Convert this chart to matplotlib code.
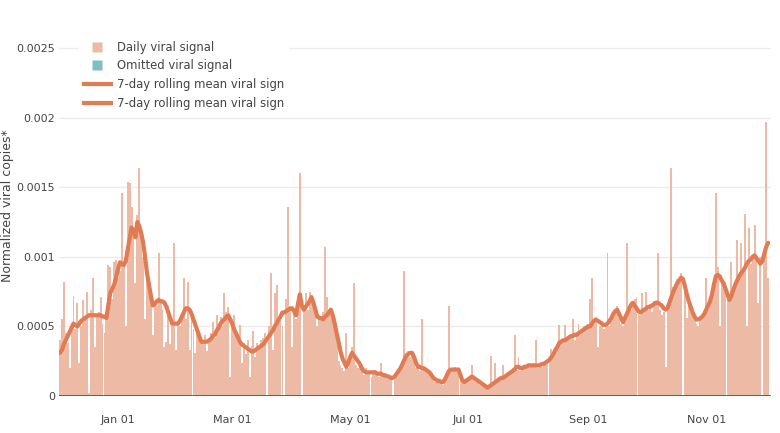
import numpy as np
import pandas as pd
import matplotlib
matplotlib.use('Agg')
import matplotlib.pyplot as plt
from matplotlib.lines import Line2D

plt.rcParams['font.family'] = ['DejaVu Sans']

# ---- data (values in units of 1e-5 normalized viral copies) ----
start_date = '2022-12-02'
daily_signal = [
    40, 55, 82, 45, 38, 20, 52, 72, 48, 67,
    24, 50, 69, 55, 75, 2, 62, 85, 35, 58,
    60, 71, 52, 45, 60, 94, 93, 70, 96, 98,
    85, 90, 146, 95, 50, 154, 153, 136, 120, 81,
    130, 164, 114, 100, 55, 83, 75, 70, 44, 68,
    65, 103, 70, 62, 35, 39, 65, 37, 55, 110,
    33, 52, 50, 58, 85, 55, 82, 33, 60, 48,
    31, 50, 42, 40, 38, 44, 32, 40, 45, 53,
    42, 58, 48, 57, 50, 74, 60, 64, 14, 55,
    58, 45, 40, 51, 24, 38, 30, 40, 14, 36,
    47, 28, 38, 35, 40, 42, 45, 1, 50, 88,
    33, 74, 80, 55, 60, 50, 1, 70, 136, 62,
    35, 60, 55, 68, 160, 1, 65, 74, 62, 75,
    70, 65, 62, 50, 58, 55, 60, 107, 71, 58,
    62, 55, 48, 40, 25, 22, 20, 18, 45, 20,
    28, 35, 81, 22, 20, 25, 18, 15, 20, 16,
    18, 14, 17, 19, 15, 14, 24, 16, 14, 12,
    15, 12, 1, 14, 17, 20, 22, 25, 90, 30,
    32, 28, 30, 26, 20, 22, 18, 55, 19, 17,
    18, 15, 14, 12, 10, 12, 9, 11, 8, 14,
    16, 65, 20, 18, 21, 17, 19, 14, 9, 10,
    12, 11, 13, 22, 12, 10, 11, 8, 9, 7,
    6, 5, 8, 29, 7, 24, 10, 13, 12, 22,
    14, 15, 17, 16, 20, 44, 19, 28, 18, 21,
    20, 22, 23, 21, 22, 23, 40, 20, 22, 21,
    24, 22, 26, 25, 34, 30, 32, 36, 51, 40,
    38, 51, 40, 42, 43, 55, 40, 45, 52, 44,
    46, 50, 48, 52, 70, 85, 52, 55, 35, 50,
    54, 48, 52, 103, 50, 55, 58, 60, 65, 56,
    52, 50, 56, 110, 60, 62, 65, 70, 71, 60,
    58, 74, 60, 75, 62, 66, 60, 68, 66, 103,
    62, 58, 60, 21, 62, 70, 164, 78, 80, 84,
    82, 88, 1, 75, 56, 65, 60, 58, 55, 52,
    50, 56, 58, 60, 85, 62, 70, 75, 82, 146,
    93, 50, 85, 80, 78, 70, 72, 96, 75, 80,
    112, 85, 110, 88, 131, 50, 121, 95, 100, 123,
    98, 67, 100, 1, 105, 197, 85,
]
rolling_mean = [
    31, 33, 37, 40, 43, 46, 49, 52, 51, 50,
    52, 54, 55, 56, 57, 58, 58, 58, 58, 58,
    58, 58, 57, 57, 56, 65, 74, 77, 80, 85,
    91, 96, 95, 94, 97, 105, 113, 121, 119, 114,
    125, 122, 117, 110, 100, 88, 80, 72, 65, 66,
    68, 69, 68, 68, 67, 64, 60, 56, 52, 52,
    52, 52, 54, 57, 60, 63, 63, 62, 59, 55,
    51, 47, 43, 39, 39, 39, 39, 40, 41, 43,
    44, 47, 49, 52, 54, 55, 57, 58, 55, 52,
    48, 45, 42, 39, 37, 36, 35, 34, 33, 32,
    32, 33, 34, 35, 36, 37, 39, 41, 43, 45,
    47, 50, 52, 55, 57, 60, 60, 61, 62, 63,
    63, 61, 58, 66, 73, 65, 62, 64, 66, 68,
    71, 67, 62, 57, 56, 56, 55, 57, 58, 60,
    62, 58, 52, 45, 39, 32, 27, 24, 21, 24,
    28, 31, 29, 27, 25, 23, 20, 18, 17, 17,
    17, 17, 17, 17, 16, 16, 16, 15, 15, 14,
    14, 13, 13, 14, 16, 18, 20, 23, 26, 29,
    30, 31, 31, 28, 24, 21, 21, 20, 20, 19,
    18, 17, 15, 13, 12, 11, 11, 10, 10, 12,
    15, 18, 19, 19, 19, 19, 19, 15, 11, 10,
    11, 12, 13, 14, 13, 12, 11, 10, 9, 8,
    7, 6, 7, 8, 9, 10, 11, 12, 13, 13,
    14, 15, 16, 17, 18, 19, 21, 21, 20, 20,
    21, 21, 22, 22, 22, 22, 22, 22, 22, 23,
    23, 24, 25, 26, 28, 30, 33, 35, 38, 39,
    40, 40, 41, 42, 43, 43, 44, 44, 45, 46,
    47, 48, 49, 50, 50, 52, 54, 55, 54, 53,
    52, 51, 51, 52, 54, 56, 59, 61, 62, 59,
    56, 53, 56, 59, 62, 65, 67, 65, 63, 61,
    60, 61, 62, 63, 64, 64, 65, 66, 67, 67,
    66, 65, 63, 62, 63, 67, 71, 75, 78, 81,
    83, 85, 84, 79, 73, 68, 64, 60, 57, 55,
    55, 56, 57, 59, 62, 65, 68, 73, 80, 86,
    87, 86, 83, 81, 77, 73, 69, 72, 76, 80,
    83, 86, 88, 90, 92, 95, 97, 98, 100, 101,
    99, 97, 95, 97, 102, 107, 110,
]
value_scale = 1e-5

tick_dates = ['2023-01-01', '2023-03-01', '2023-05-01', '2023-07-01', '2023-09-01', '2023-11-01']
tick_labels = ['Jan 01', 'Mar 01', 'May 01', 'Jul 01', 'Sep 01', 'Nov 01']
y_ticks = [0, 0.0005, 0.001, 0.0015, 0.002, 0.0025]
y_tick_labels = ['0', '0.0005', '0.001', '0.0015', '0.002', '0.0025']

legend_labels = ['Daily viral signal', 'Omitted viral signal',
                 '7-day rolling mean viral sign', '7-day rolling mean viral sign']

BAR = '#EDBBA5'
OMIT = '#7DBFC2'
LINE = '#E07B53'
TXT = '#444444'

n = min(len(daily_signal), len(rolling_mean))
dates = pd.date_range(start_date, periods=n, freq='D')
daily = np.array(daily_signal[:n]) * value_scale
rolling = np.array(rolling_mean[:n]) * value_scale

W, H = 780, 433
fig = plt.figure(figsize=(W / 100, H / 100), dpi=100)
ax = fig.add_axes([59 / W, 1 - 396 / H, 712 / W, 362 / H])

ax.bar(dates, daily, width=1.0, color=BAR, linewidth=0, zorder=2)
ax.plot(dates, rolling, color=LINE, lw=3, solid_capstyle='round',
        solid_joinstyle='round', zorder=3)
ax.plot([], [], color=LINE, lw=3)

base = pd.Timestamp('2022-12-01')
ax.set_xlim(base + pd.Timedelta(hours=12), base + pd.Timedelta(days=368.5))
ax.set_ylim(0, 0.0026)

ax.set_xticks(pd.to_datetime(tick_dates))
ax.set_xticklabels(tick_labels)
ax.set_yticks(y_ticks)
ax.set_yticklabels(y_tick_labels)
ax.tick_params(axis='x', length=0, pad=14, labelsize=8, colors=TXT)
ax.tick_params(axis='y', length=0, pad=3, labelsize=8, colors=TXT)

ax.yaxis.grid(True, color='#ececec', lw=1)
ax.set_axisbelow(True)
for s in ax.spines.values():
    s.set_visible(False)
ax.axhline(0, color='#444444', lw=1.1, zorder=4)

ax.set_ylabel('Normalized viral copies*', fontsize=9, color=TXT)
ax.yaxis.set_label_coords((14 - 59) / 712, 0.525)

handles = [
    Line2D([], [], marker='s', ls='none', markerfacecolor=BAR, markeredgecolor='none', markersize=7.5),
    Line2D([], [], marker='s', ls='none', markerfacecolor=OMIT, markeredgecolor='none', markersize=7.5),
    Line2D([], [], color=LINE, lw=3),
    Line2D([], [], color=LINE, lw=3),
]
leg = fig.legend(handles, legend_labels, loc='upper left',
                 bbox_to_anchor=(79 / W, 1 - 36 / H), borderaxespad=0,
                 frameon=True, facecolor='white', edgecolor='none', framealpha=1,
                 fontsize=8.4, handlelength=2.3, handletextpad=0.55,
                 labelspacing=0.5, borderpad=0.4)
for t in leg.get_texts():
    t.set_color(TXT)

fig.savefig('out.png', dpi=100)
